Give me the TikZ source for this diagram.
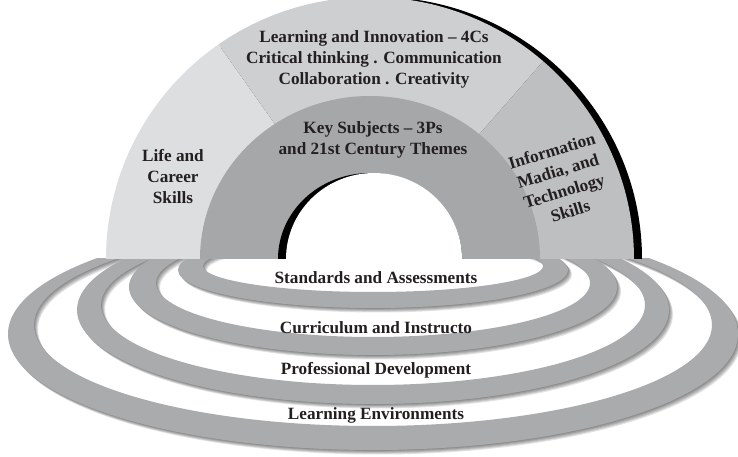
\documentclass[tikz,border=0pt]{standalone}
\usepackage{fontspec}
\setmainfont{Liberation Serif}

\definecolor{lifegray}{RGB}{221,222,224}
\definecolor{innovgray}{RGB}{206,207,209}
\definecolor{infogray}{RGB}{190,191,193}
\definecolor{keygray}{RGB}{166,167,169}
\definecolor{ringgray}{RGB}{170,171,173}
\definecolor{inkcol}{RGB}{35,31,32}

\begin{document}
\begin{tikzpicture}[x=1pt,y=1pt,
  label text/.style={font=\fontsize{17.2}{21}\selectfont\bfseries,text=inkcol,
    align=center,inner sep=0pt},
  ring band/.style={fill=ringgray,even odd rule},
  ring shadow/.style={fill=black,opacity=0.11,even odd rule}]

  \useasboundingbox (-370,-198) rectangle (368,259);
  \clip (-370,-198) rectangle (368,259);

  % Support systems: four flat rings below the half disc

  \begin{scope}
    \clip (-370,-198) rectangle (368,0);
    \foreach \ocy/\orx/\ory/\icy/\irx/\iry in
      {-75/365/116/-66/339/101, -51/296/94/-46/272/80,
       -28/244/68/-24/217/54, -11/195/38/-7/170/26}
    {
      \foreach \s in {1,...,5}
        \fill[ring shadow,shift={(0.8*\s,-0.9*\s)}]
          (3,\ocy) ellipse [x radius=\orx,y radius=\ory]
          (3,\icy) ellipse [x radius=\irx,y radius=\iry];
    }
    \foreach \ocy/\orx/\ory/\icy/\irx/\iry in
      {-75/365/116/-66/339/101, -51/296/94/-46/272/80,
       -28/244/68/-24/217/54, -11/195/38/-7/170/26}
      \fill[ring band]
        (3,\ocy) ellipse [x radius=\orx,y radius=\ory]
        (3,\icy) ellipse [x radius=\irx,y radius=\iry];
  \end{scope}

  % Outer half disc: the three skill areas, with a dark rim on the right

  \fill[black,xshift=8pt] (-264,0) arc [start angle=180,end angle=0,
    x radius=264,y radius=262] -- cycle;
  \fill[lifegray] (0,0) -- (-264,0) arc [start angle=180,end angle=125,
    x radius=264,y radius=262] -- cycle;
  \fill[innovgray] (0,0) -- (125:264 and 262) arc [start angle=125,end angle=49,
    x radius=264,y radius=262] -- cycle;
  \fill[infogray] (0,0) -- (49:264 and 262) arc [start angle=49,end angle=0,
    x radius=264,y radius=262] -- cycle;

  % Core: key subjects, and the hole in the middle

  \fill[keygray] (-170,0) arc [start angle=180,end angle=0,
    x radius=170,y radius=163] -- cycle;
  \fill[black] (-92,0) arc [start angle=180,end angle=0,
    x radius=92,y radius=86] -- cycle;
  \fill[white] (-84,0) arc [start angle=180,end angle=0,
    x radius=88,y radius=86] -- cycle;

  % Texts

  \node[label text] (LI) at (4,200)
    {Learning and Innovation – 4Cs\\Critical thinking . Communication\\Collaboration . Creativity};
  \node[label text] (KS) at (3,119) {Key Subjects – 3Ps\\and 21st Century Themes};
  \node[label text] (LC) at (-197,82) {Life and\\Career\\Skills};
  \node[label text,rotate=17] (IMT) at (191,78)
    {Information\\Madia, and\\Technology\\Skills};

  \node[label text] (SA) at (6,-19) {Standards and Assessments};
  \node[label text] (CI) at (6,-69) {Curriculum and Instructo};
  \node[label text] (PD) at (6,-111) {Professional Development};
  \node[label text] (LE) at (6,-156) {Learning Environments};
\end{tikzpicture}
\end{document}
